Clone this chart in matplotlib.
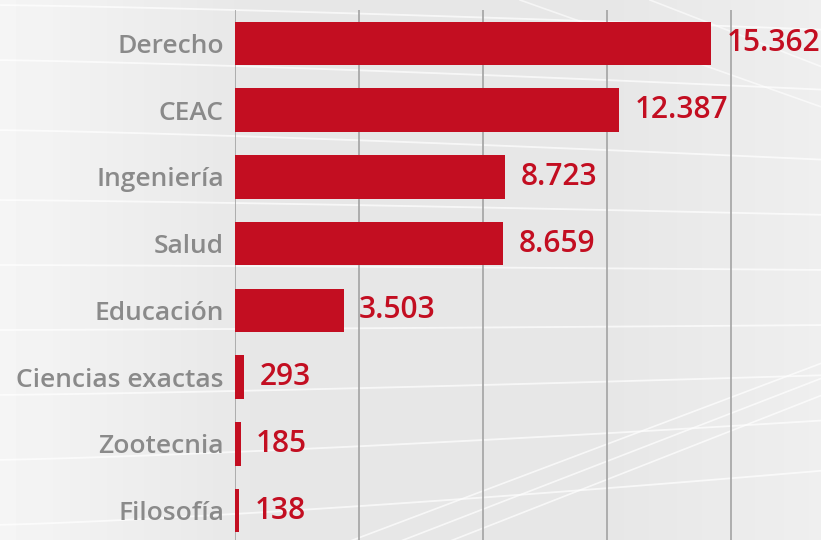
import matplotlib
matplotlib.use("Agg")
import matplotlib.pyplot as plt
import numpy as np

# ---- data ----
categories = ["Derecho", "CEAC", "Ingeniería", "Salud", "Educación",
              "Ciencias exactas", "Zootecnia", "Filosofía"]
values = [15362, 12387, 8723, 8659, 3503, 293, 185, 138]
grid_ticks = [0, 4000, 8000, 12000, 16000]

BAR_COLOR = "#c30e21"
LABEL_GRAY = "#8a8a8a"

W, H = 821, 540
fig = plt.figure(figsize=(W / 100, H / 100), dpi=100)
fig.patch.set_facecolor("#e8e8e9")

# ---- decorative background ----
bg = fig.add_axes([0, 0, 1, 1], zorder=0)
bg.set_xlim(0, W)
bg.set_ylim(H, 0)
bg.axis("off")
xs = np.linspace(0, 1, 200)
grad = np.ones((10, 200)) * (0.96 - 0.055 * np.clip(xs * 3.2, 0, 1)
                             + 0.03 * np.clip((xs - 0.75) * 4, 0, 1))
bg.imshow(grad, extent=[0, W, H, 0], cmap="gray", vmin=0, vmax=1, aspect="auto")
# soft white lines, nearly horizontal, gently converging towards right
for y0, y1 in [(5, 30), (60, 90), (130, 160), (200, 215), (265, 270),
               (330, 325), (395, 375), (460, 420), (525, 470)]:
    xx = np.linspace(-10, 830, 100)
    t = (xx + 10) / 840
    yy = y0 + (y1 - y0) * t ** 1.3
    bg.plot(xx, yy, color="white", lw=1.3, alpha=0.7)
for y0, y1 in [(560, 360), (580, 375), (600, 392)]:
    bg.plot([300, 830], [y0, y1], color="white", lw=1.2, alpha=0.7)
for x0, y1 in [(520, 110), (650, 70)]:
    bg.plot([x0, 830], [0, y1], color="white", lw=1.2, alpha=0.6)

# ---- main chart ----
ax = fig.add_axes([235 / W, 0, 1 - 235 / W, 1 - 10 / H], zorder=1)
ax.patch.set_alpha(0)
y = np.arange(len(categories))
ax.barh(y, values, height=0.65, color=BAR_COLOR, zorder=3)

ax.set_xlim(0, (W - 235) / 0.031)
ax.set_ylim(7.44, -0.5)
ax.set_xticks(grid_ticks)
ax.xaxis.grid(True, color="#a3a3a3", lw=1.2, zorder=1)
ax.tick_params(axis="x", length=0, labelbottom=False)
ax.tick_params(axis="y", length=0, pad=8)
ax.set_yticks(y)
ax.set_yticklabels(categories, fontfamily="Open Sans", fontweight="semibold",
                   fontsize=19, color=LABEL_GRAY)
for s in ax.spines.values():
    s.set_visible(False)

for yi, v in zip(y, values):
    ax.annotate(f"{v:,}".replace(",", "."), (v, yi), xytext=(11, 0),
                textcoords="offset points", va="center", ha="left",
                fontfamily="Open Sans", fontweight="semibold", fontsize=21.5,
                color=BAR_COLOR, zorder=4)

fig.savefig("out.png", dpi=100, facecolor=fig.get_facecolor())
